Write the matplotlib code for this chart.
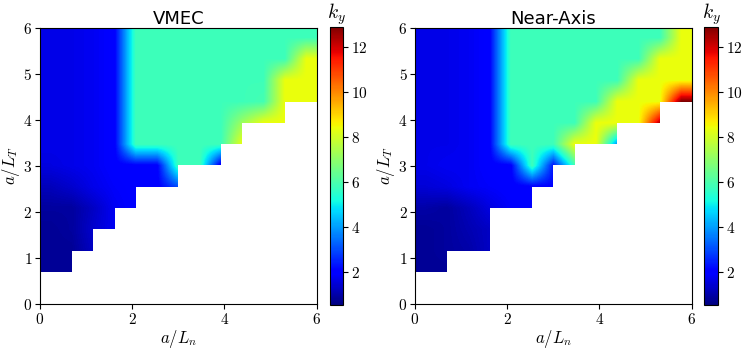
import numpy as np
import matplotlib
matplotlib.use("Agg")
import matplotlib.pyplot as plt
from matplotlib.ticker import FuncFormatter

nan = np.nan

# k_y on a 13x13 grid over a/L_n (columns) and a/L_T (rows, top row first)
vmec_ky = [
    [1.7, 1.7, 1.8, 2.0, 5.8, 5.8, 5.8, 5.8, 5.8, 5.8, 5.8, 5.8, 5.8],
    [1.7, 1.7, 1.8, 2.0, 5.8, 5.8, 5.8, 5.8, 5.8, 5.8, 5.8, 5.8, 8.4],
    [1.7, 1.7, 1.8, 2.0, 5.8, 5.8, 5.8, 5.8, 5.8, 5.8, 5.8, 8.4, 8.4],
    [1.7, 1.7, 1.8, 2.0, 5.8, 5.8, 5.8, 5.8, 5.8, 5.8, 5.9, 8.4, 8.4],
    [1.7, 1.7, 1.8, 2.0, 5.8, 5.8, 5.8, 5.8, 5.8, 7.2, 8.4, 8.4, nan],
    [1.7, 1.7, 1.8, 2.0, 5.8, 5.8, 5.8, 5.8, 5.8, 8.4, nan, nan, nan],
    [1.6, 1.7, 1.8, 2.0, 2.0, 2.0, 5.8, 5.8, 1.6, nan, nan, nan, nan],
    [1.2, 1.4, 1.7, 1.9, 2.0, 2.0, 3.0, nan, nan, nan, nan, nan, nan],
    [0.9, 0.9, 1.3, 1.8, 2.0, nan, nan, nan, nan, nan, nan, nan, nan],
    [0.8, 0.9, 1.4, 1.8, nan, nan, nan, nan, nan, nan, nan, nan, nan],
    [0.8, 0.8, 1.3, nan, nan, nan, nan, nan, nan, nan, nan, nan, nan],
    [0.8, 0.8, nan, nan, nan, nan, nan, nan, nan, nan, nan, nan, nan],
    [nan, nan, nan, nan, nan, nan, nan, nan, nan, nan, nan, nan, nan],
]

near_axis_ky = [
    [1.7, 1.7, 1.8, 2.0, 5.8, 5.8, 5.8, 5.8, 5.8, 5.8, 5.8, 5.8, 8.4],
    [1.7, 1.7, 1.8, 2.0, 5.8, 5.8, 5.8, 5.8, 5.8, 5.8, 5.8, 8.4, 8.4],
    [1.7, 1.7, 1.8, 2.0, 5.8, 5.8, 5.8, 5.8, 5.8, 5.8, 8.4, 8.4, 8.4],
    [1.7, 1.7, 1.8, 2.0, 5.8, 5.8, 5.8, 5.8, 5.8, 8.4, 8.4, 8.4, 12.9],
    [1.7, 1.7, 1.8, 2.0, 5.8, 5.8, 5.8, 5.8, 8.4, 8.4, 8.4, 12.4, nan],
    [1.7, 1.7, 1.8, 2.0, 5.8, 5.8, 5.8, 8.4, 8.4, 3.8, nan, nan, nan],
    [1.7, 1.8, 1.8, 2.0, 2.0, 5.8, 2.3, 5.8, nan, nan, nan, nan, nan],
    [1.5, 1.6, 1.8, 1.9, 2.0, 2.0, 2.1, nan, nan, nan, nan, nan, nan],
    [1.0, 0.9, 1.2, 1.6, 1.9, 2.0, nan, nan, nan, nan, nan, nan, nan],
    [0.8, 0.9, 1.1, 1.3, nan, nan, nan, nan, nan, nan, nan, nan, nan],
    [0.8, 0.9, 1.0, 1.3, nan, nan, nan, nan, nan, nan, nan, nan, nan],
    [0.8, 0.8, nan, nan, nan, nan, nan, nan, nan, nan, nan, nan, nan],
    [nan, nan, nan, nan, nan, nan, nan, nan, nan, nan, nan, nan, nan],
]

titles = ["VMEC", "Near-Axis"]
ky_min, ky_max = 0.55, 12.9

plt.rcParams["mathtext.fontset"] = "cm"
tex = FuncFormatter(lambda v, p: f"${v:g}$")

fig = plt.figure(figsize=(7.47, 3.51), dpi=100)

ax_pos = [[0.0535, 0.134, 0.3704, 0.787], [0.5556, 0.134, 0.3704, 0.787]]
cb_pos = [[0.4411, 0.131, 0.0187, 0.793], [0.9428, 0.131, 0.0187, 0.793]]

for k, data in enumerate([vmec_ky, near_axis_ky]):
    ax = fig.add_axes(ax_pos[k])
    im = ax.imshow(np.array(data), cmap="jet", extent=(0, 6, 0, 6), origin="upper",
                   interpolation="bilinear", vmin=ky_min, vmax=ky_max, aspect="auto")
    ax.set_xlim(0, 6)
    ax.set_ylim(0, 6)
    ax.set_xticks([0, 2, 4, 6])
    ax.set_yticks(range(7))
    ax.xaxis.set_major_formatter(tex)
    ax.yaxis.set_major_formatter(tex)
    ax.tick_params(labelsize=11, pad=2)
    ax.set_xlabel(r"$a/L_n$", fontsize=12, labelpad=1)
    ax.set_ylabel(r"$a/L_T$", fontsize=12, labelpad=1)
    ax.set_title(titles[k], fontsize=13, pad=3)

    cax = fig.add_axes(cb_pos[k])
    cb = fig.colorbar(im, cax=cax)
    cb.set_ticks([2, 4, 6, 8, 10, 12])
    cax.yaxis.set_major_formatter(tex)
    cax.tick_params(labelsize=11, pad=2)
    cax.set_title(r"$k_y$", fontsize=14, pad=2)

fig.savefig("out.png", dpi=100)
